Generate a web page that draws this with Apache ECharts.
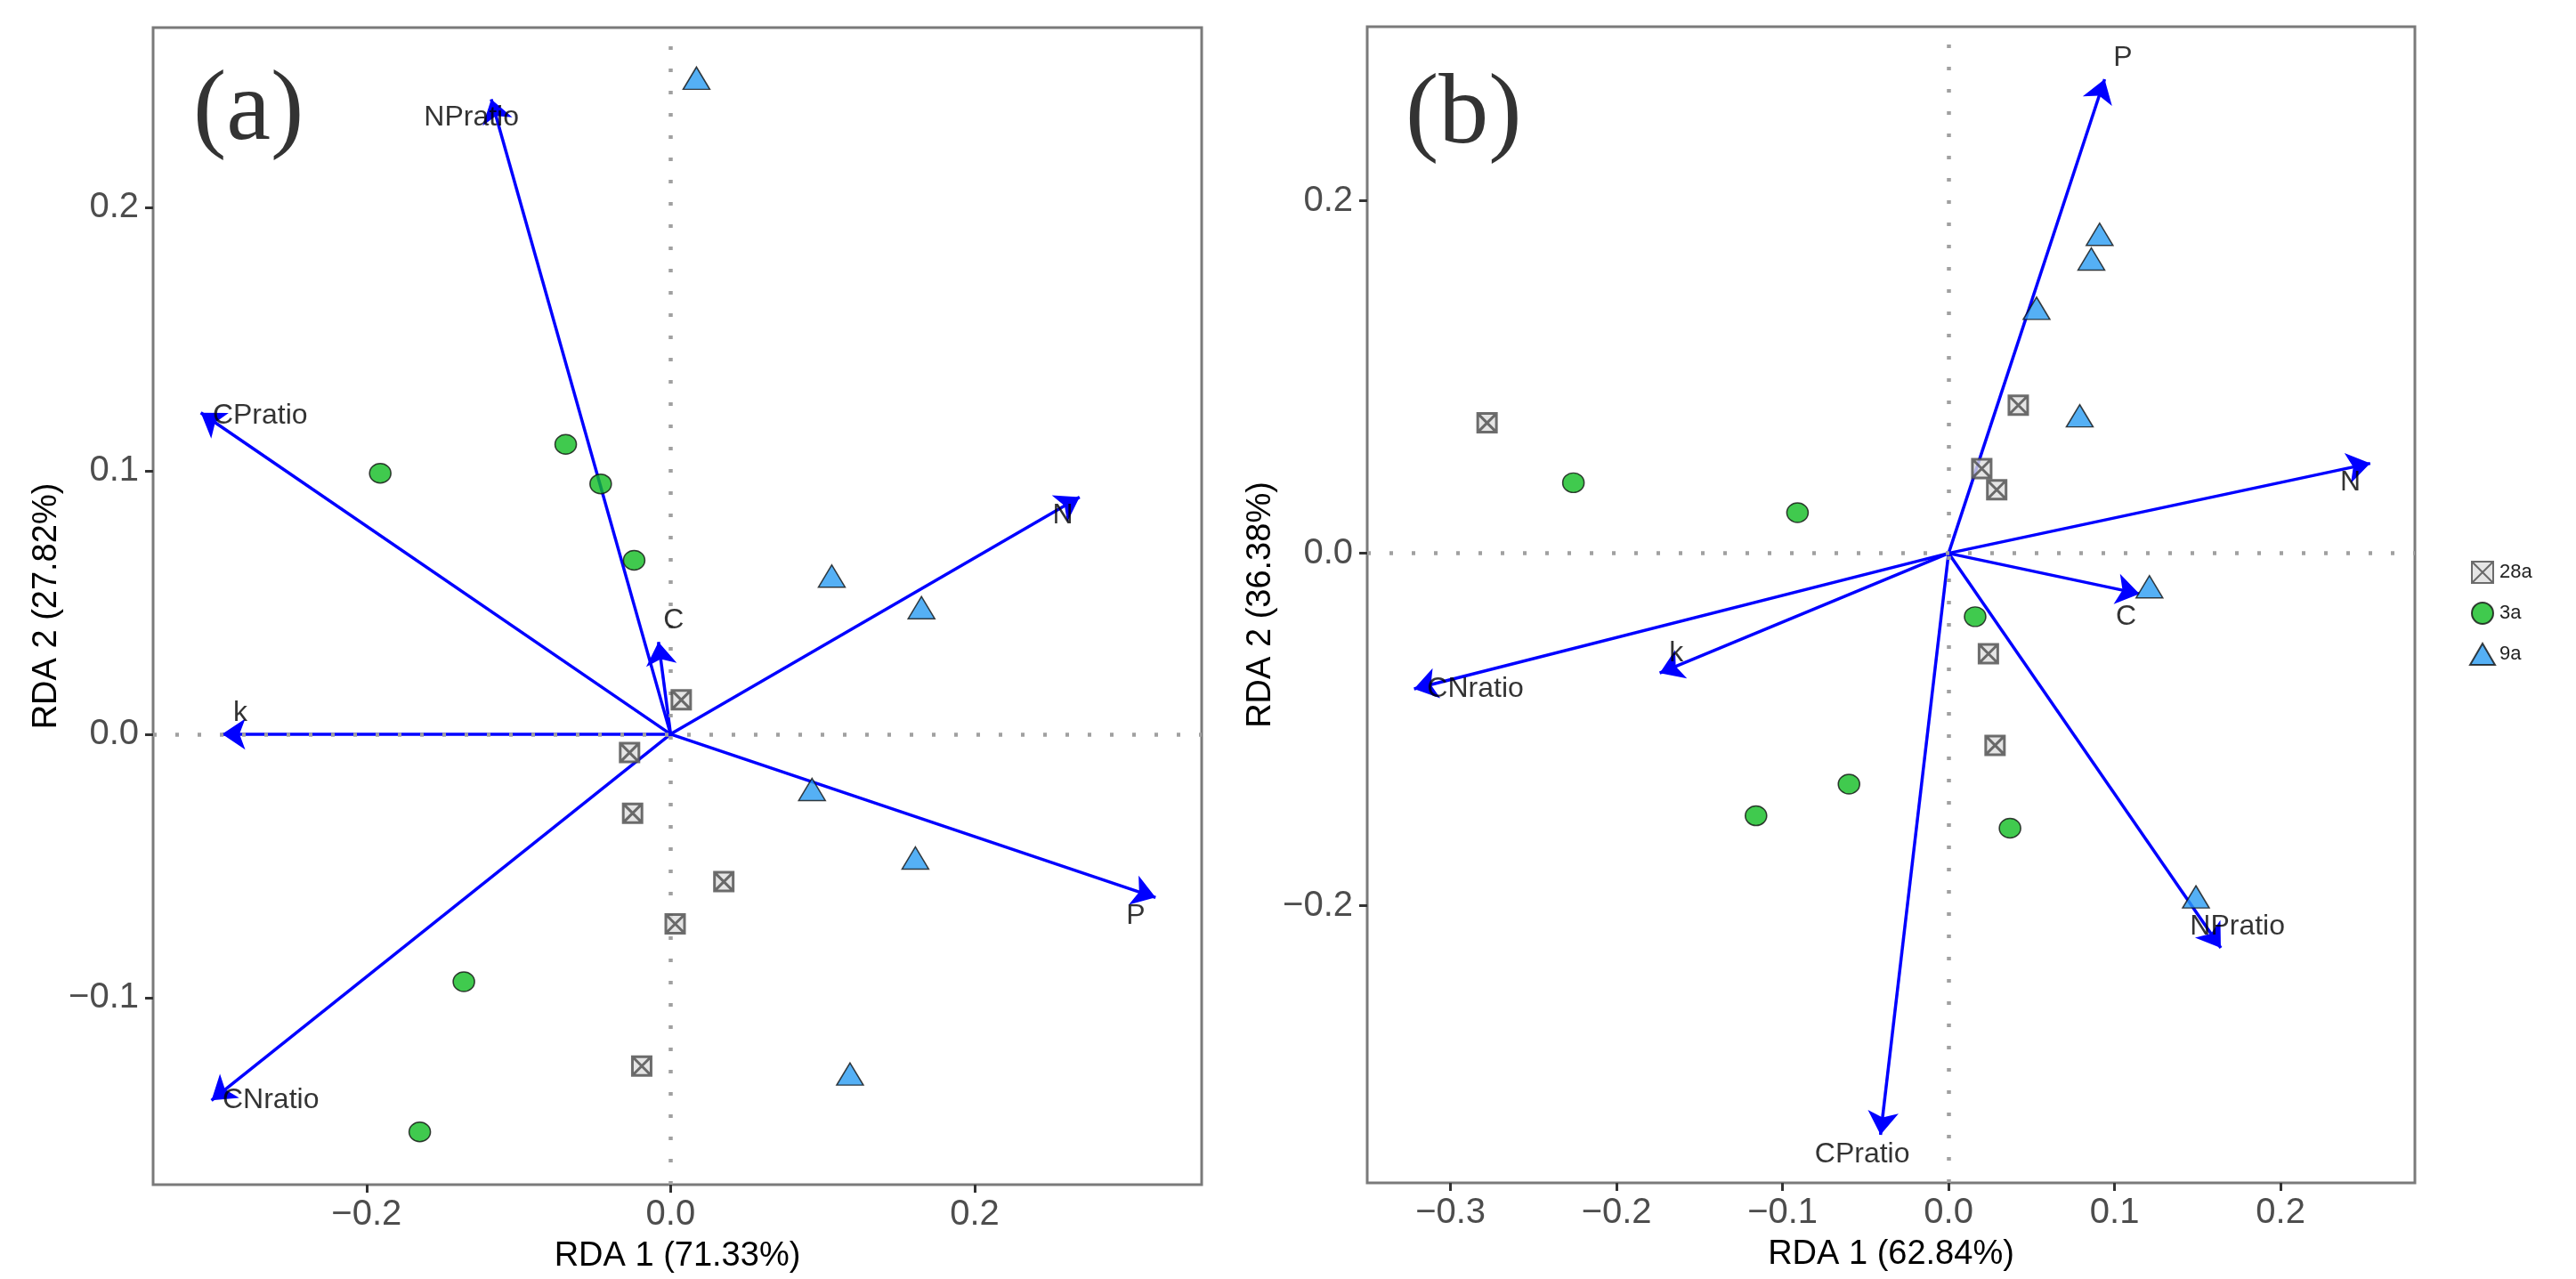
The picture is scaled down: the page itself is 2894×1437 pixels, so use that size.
<!DOCTYPE html>
<html>
<head>
<meta charset="utf-8">
<script src="https://cdn.jsdelivr.net/npm/echarts@6/dist/echarts.min.js"></script>
<style>
  html, body { margin: 0; padding: 0; background: #fff; }
  #chart { width: 2894px; height: 1437px; }
</style>
</head>
<body>
<div id="chart"></div>
<script>
// ---- data ----
const varNames = ['NPratio', 'CPratio', 'k', 'C', 'N', 'P', 'CNratio'];

// panel (a): arrow tips and label anchors (RDA1, RDA2)
const arrowsA = [[-0.118, 0.241], [-0.309, 0.122], [-0.295, 0.0], [-0.008, 0.035], [0.269, 0.090], [0.319, -0.062], [-0.302, -0.139]];
const labelsA = [[-0.131, 0.234], [-0.270, 0.121], [-0.283, 0.008], [0.002, 0.043], [0.258, 0.083], [0.306, -0.069], [-0.263, -0.139]];
const a28 = [[0.007, 0.013], [-0.027, -0.007], [-0.025, -0.030], [0.035, -0.056], [0.003, -0.072], [-0.019, -0.126]];
const a3 = [[-0.191, 0.099], [-0.069, 0.110], [-0.046, 0.095], [-0.024, 0.066], [-0.136, -0.094], [-0.165, -0.151]];
const a9 = [[0.017, 0.249], [0.106, 0.060], [0.165, 0.048], [0.093, -0.021], [0.161, -0.047], [0.118, -0.129]];

// panel (b)
const arrowsB = [[0.164, -0.224], [-0.041, -0.330], [-0.174, -0.068], [0.115, -0.023], [0.254, 0.051], [0.094, 0.269], [-0.322, -0.077]];
const labelsB = [[0.174, -0.212], [-0.052, -0.341], [-0.164, -0.057], [0.107, -0.036], [0.242, 0.040], [0.105, 0.281], [-0.285, -0.077]];
const b28 = [[-0.278, 0.074], [0.042, 0.084], [0.020, 0.048], [0.029, 0.036], [0.024, -0.057], [0.028, -0.109]];
const b3 = [[-0.226, 0.040], [-0.091, 0.023], [0.016, -0.036], [-0.060, -0.131], [-0.116, -0.149], [0.037, -0.156]];
const b9 = [[0.091, 0.181], [0.086, 0.167], [0.053, 0.139], [0.079, 0.078], [0.121, -0.019], [0.149, -0.195]];

const groupNames = ['28a', '3a', '9a'];
const xTicksA = [-0.2, 0, 0.2];
const yTicksA = [-0.1, 0, 0.1, 0.2];
const xTicksB = [-0.3, -0.2, -0.1, 0, 0.1, 0.2];
const yTicksB = [-0.2, 0, 0.2];
const rangeA = { x: [-0.3404, 0.3493], y: [-0.171, 0.2682] };
const rangeB = { x: [-0.3502, 0.2809], y: [-0.3573, 0.2988] };
const axisTitles = ['RDA 1 (71.33%)', 'RDA 2 (27.82%)', 'RDA 1 (62.84%)', 'RDA 2 (36.38%)'];

// ---- styles ----
const SANS = 'Liberation Sans, Arial, sans-serif';
const ARROW = '#0000ff';
const squareCross = 'path://M0,0H20V20H0Z M0,0L20,20 M20,0L0,20';
const markerStyles = {
    '28a': { symbol: squareCross, symbolSize: 21, itemStyle: { color: '#dedede', borderColor: '#4a4a4a', borderWidth: 3 } },
    '3a': { symbol: 'circle', symbolSize: [24, 22], itemStyle: { color: '#10bd22', borderColor: '#111', borderWidth: 1.5 } },
    '9a': { symbol: 'triangle', symbolSize: [30, 25], itemStyle: { color: '#2b9cf2', borderColor: '#111', borderWidth: 1.5 } }
};

const fmt = v => (v < 0 ? '\u2212' : '') + Math.abs(v).toFixed(1);

function xAxisFor(gi, range, ticks, title) {
    return {
        type: 'value', gridIndex: gi, min: range[0], max: range[1],
        name: title, nameLocation: 'middle', nameGap: 62,
        nameTextStyle: { fontFamily: SANS, fontSize: 38, color: '#000' },
        axisLine: { show: false, onZero: false },
        splitLine: { show: false },
        axisTick: { show: true, length: 9, customValues: ticks, lineStyle: { color: '#333', width: 3 } },
        axisLabel: { customValues: ticks, formatter: fmt, margin: 14, fontFamily: SANS, fontSize: 40, color: '#4d4d4d' }
    };
}

function yAxisFor(gi, range, ticks, title) {
    return {
        type: 'value', gridIndex: gi, min: range[0], max: range[1],
        name: title, nameLocation: 'middle', nameGap: 100, nameRotate: 90,
        nameTextStyle: { fontFamily: SANS, fontSize: 38, color: '#000' },
        axisLine: { show: false, onZero: false },
        splitLine: { show: false },
        axisTick: { show: true, length: 9, customValues: ticks, lineStyle: { color: '#333', width: 3 } },
        axisLabel: { customValues: ticks, formatter: fmt, margin: 16, fontFamily: SANS, fontSize: 40, color: '#4d4d4d' }
    };
}

function panelSeries(ai, arrows, labels, groups) {
    const out = [];
    out.push({
        type: 'lines', coordinateSystem: 'cartesian2d', xAxisIndex: ai, yAxisIndex: ai,
        silent: true, z: 2,
        symbol: ['none', 'arrow'], symbolSize: 26,
        lineStyle: { color: ARROW, width: 3.5, opacity: 1, curveness: 0 },
        data: arrows.map(p => ({ coords: [[0, 0], p] }))
    });
    out.push({
        type: 'scatter', xAxisIndex: ai, yAxisIndex: ai, silent: true, z: 3,
        symbolSize: 0, data: [[0, 0]],
        markLine: {
            silent: true, symbol: 'none', animation: false,
            label: { show: false },
            lineStyle: { color: '#a0a0a0', width: 4.5, type: [4, 21] },
            data: [{ xAxis: 0 }, { yAxis: 0 }]
        }
    });
    groupNames.forEach((g, i) => {
        out.push(Object.assign({
            type: 'scatter', name: g, xAxisIndex: ai, yAxisIndex: ai, z: 5,
            data: groups[i]
        }, markerStyles[g]));
    });
    out.push({
        type: 'scatter', xAxisIndex: ai, yAxisIndex: ai, silent: true, z: 6,
        symbolSize: 1, itemStyle: { color: 'transparent' },
        label: {
            show: true, position: 'inside', formatter: p => p.data.name,
            fontFamily: SANS, fontSize: 32, color: '#000'
        },
        data: labels.map((p, i) => ({ value: p, name: varNames[i] }))
    });
    return out;
}

const chart = echarts.init(document.getElementById('chart'));
chart.setOption({
    animation: false,
    backgroundColor: '#fff',
    title: [
        { text: '(a)', left: 212, top: 66, textStyle: { fontFamily: 'Liberation Serif, serif', fontSize: 112, fontWeight: 'normal', color: '#333' } },
        { text: '(b)', left: 1574, top: 70, textStyle: { fontFamily: 'Liberation Serif, serif', fontSize: 112, fontWeight: 'normal', color: '#333' } }
    ],
    grid: [
        { left: 172, top: 31, width: 1178, height: 1300, show: true, borderColor: '#7a7a7a', borderWidth: 3, backgroundColor: 'transparent' },
        { left: 1536, top: 30, width: 1177, height: 1299, show: true, borderColor: '#7a7a7a', borderWidth: 3, backgroundColor: 'transparent' }
    ],
    xAxis: [
        xAxisFor(0, rangeA.x, xTicksA, axisTitles[0]),
        xAxisFor(1, rangeB.x, xTicksB, axisTitles[2])
    ],
    yAxis: [
        yAxisFor(0, rangeA.y, yTicksA, axisTitles[1]),
        yAxisFor(1, rangeB.y, yTicksB, axisTitles[3])
    ],
    legend: {
        orient: 'vertical', left: 2774, top: 630, padding: 0,
        itemWidth: 28, itemHeight: 24, itemGap: 20,
        data: groupNames,
        textStyle: { fontFamily: SANS, fontSize: 22, color: '#222' }
    },
    series: [
        ...panelSeries(0, arrowsA, labelsA, [a28, a3, a9]),
        ...panelSeries(1, arrowsB, labelsB, [b28, b3, b9])
    ]
});
</script>
</body>
</html>
